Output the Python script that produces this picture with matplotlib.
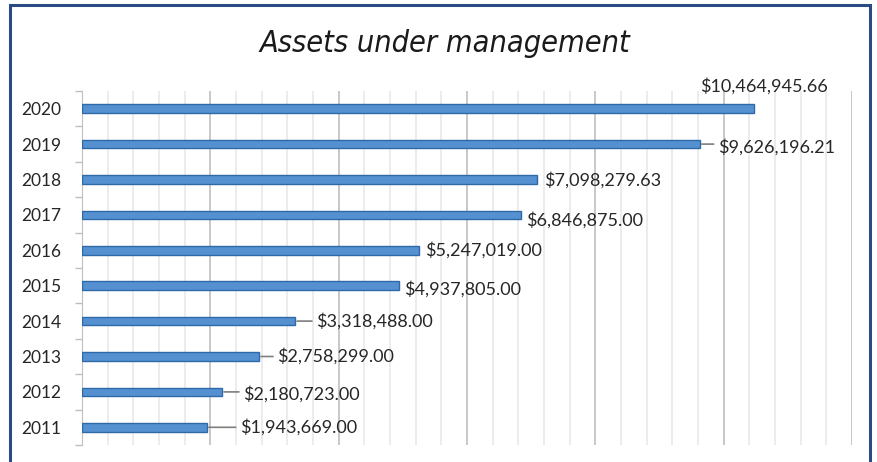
import numpy as np
import matplotlib.pyplot as plt
from matplotlib.patches import Rectangle
from matplotlib.ticker import MultipleLocator, FixedLocator

# data
years = ['2011', '2012', '2013', '2014', '2015', '2016', '2017', '2018', '2019', '2020']
assets = [1943669.00, 2180723.00, 2758299.00, 3318488.00, 4937805.00,
          5247019.00, 6846875.00, 7098279.63, 9626196.21, 10464945.66]
labels = ['${:,.2f}'.format(v) for v in assets]

# label offsets in pixels from bar end (dx, dy) - mimics Excel's placement
label_offsets = [(33, 0), (21, -2), (18, 0), (21, 0), (5, -3),
                 (6, 0), (5, -5), (7, -1), (18, -3), (10, 23)]

W, H = 877, 462
fig = plt.figure(figsize=(W / 100, H / 100), dpi=100)
ax = fig.add_axes([82 / W, 1 - 445 / H, (852 - 82) / W, (445 - 91) / H])

y = np.arange(len(years))
ax.barh(y, assets, height=0.24, color='#5591d0', edgecolor='#2f6aa8', linewidth=1.0, zorder=3)

ax.set_xlim(0, 12e6)
ax.set_ylim(-0.5, len(years) - 0.5)

# gridlines
ax.xaxis.set_major_locator(MultipleLocator(2e6))
ax.xaxis.set_minor_locator(MultipleLocator(0.4e6))
ax.grid(which='major', axis='x', color='#bfbfbf', linewidth=1.2, zorder=0)
ax.grid(which='minor', axis='x', color='#e9e9e9', linewidth=1.2, zorder=0)
ax.tick_params(axis='x', which='both', length=0, labelbottom=False)

# category axis
ax.set_yticks(y)
ax.set_yticklabels(years, fontsize=12.5, family='Lato', color='#262626')
ax.yaxis.set_minor_locator(FixedLocator(np.arange(-0.5, len(years), 1.0)))
ax.tick_params(axis='y', which='major', length=0, pad=15)
ax.tick_params(axis='y', which='minor', length=5, color='#bfbfbf', width=1)

for s in ['top', 'right', 'bottom']:
    ax.spines[s].set_visible(False)
ax.spines['left'].set_color('#bfbfbf')

# data labels
for i, (v, lab) in enumerate(zip(assets, labels)):
    dx, dy = label_offsets[i]
    if dy > 15:
        ax.annotate(lab, xy=(v, i), xytext=(dx, dy), textcoords='offset pixels',
                    ha='center', va='center', fontsize=13, family='Lato', color='#262626')
    elif dx > 15:
        # leader line drawn level with the bar, text sits a bit lower
        ax.annotate('', xy=(v, i), xytext=(dx - 4, 0), textcoords='offset pixels',
                    arrowprops=dict(arrowstyle='-', color='#7f7f7f', lw=1.2,
                                    shrinkA=0, shrinkB=1.5))
        ax.annotate(lab, xy=(v, i), xytext=(dx, dy), textcoords='offset pixels',
                    ha='left', va='center', fontsize=13, family='Lato', color='#262626')
    else:
        ax.annotate(lab, xy=(v, i), xytext=(dx, dy), textcoords='offset pixels',
                    ha='left', va='center', fontsize=13, family='Lato', color='#262626')

fig.text(445 / W, 1 - 43 / H, 'Assets under management', ha='center', va='center',
         fontsize=22, family='DejaVu Sans', fontstretch='condensed', style='oblique',
         color='#1a1a1a')

# chart frame
fig.patches.append(Rectangle((10 / W, -0.05), (870 - 10) / W, 1.05 - 5 / H,
                             transform=fig.transFigure, fill=False,
                             edgecolor='#2c4a86', linewidth=2.2))

fig.savefig('out.png', dpi=100)
